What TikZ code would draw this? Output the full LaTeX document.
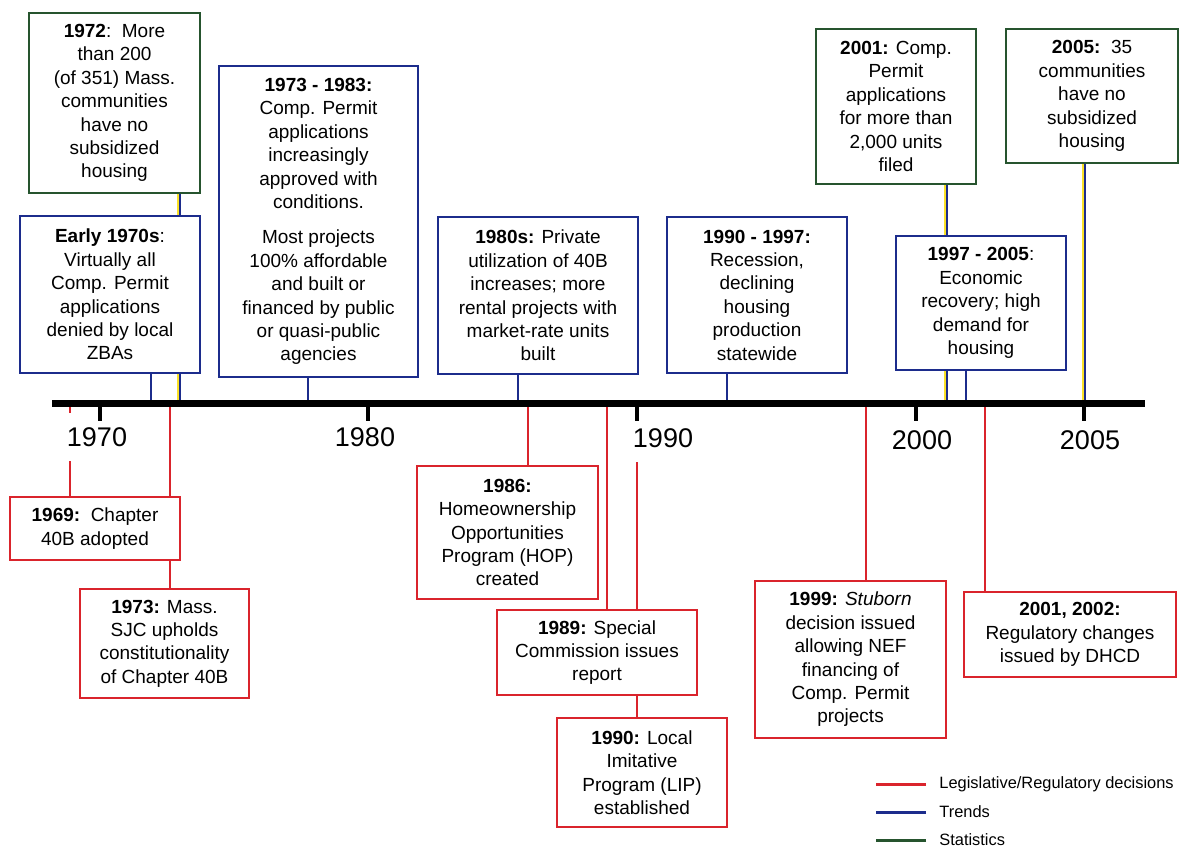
\documentclass[tikz,border=0pt]{standalone}
\usepackage{fontspec}
\setmainfont{Liberation Sans}
\usetikzlibrary{backgrounds}

\definecolor{legred}{RGB}{218,36,44}
\definecolor{trendblue}{RGB}{28,44,140}
\definecolor{statgreen}{RGB}{38,84,46}
\definecolor{fringe}{RGB}{250,225,40}

\tikzset{
  box/.style={rectangle, draw, fill=white, line width=1.2pt, align=center,
    inner sep=0pt, font=\fontsize{9.5}{11.7}\selectfont},
  legbox/.style={box, draw=legred},
  trendbox/.style={box, draw=trendblue},
  statbox/.style={box, draw=statgreen},
  legline/.style={legred, line width=1.3pt},
  trendline/.style={trendblue, line width=1.3pt},
  statline/.style={fringe, line width=2.4pt,
    postaction={draw=trendblue, line width=1.2pt, transform canvas={xshift=0.6pt}}},
  yearlabel/.style={fill=white, inner xsep=1pt, inner ysep=7pt,
    font=\fontsize{13.5}{14}\selectfont},
  keytext/.style={anchor=west, inner sep=0pt, font=\fontsize{8.2}{9}\selectfont}
}

\begin{document}
\begin{tikzpicture}[x=0.5pt, y=-0.5pt]
  \useasboundingbox (0,0) rectangle (1182,852);

  % points on the time axis
  \coordinate (axL)   at (52,403);
  \coordinate (axR)   at (1145,403);
  \coordinate (a1969) at (70,403);
  \coordinate (a1970s) at (151,403);
  \coordinate (a1973) at (170,403);
  \coordinate (a1972) at (179,403);
  \coordinate (a7383) at (308,403);
  \coordinate (a1980s) at (518,403);
  \coordinate (a1986) at (528,403);
  \coordinate (a1989) at (607,403);
  \coordinate (a1990) at (637,403);
  \coordinate (a9097) at (727,403);
  \coordinate (a1999) at (866,403);
  \coordinate (a2001) at (946,403);
  \coordinate (a9705) at (966,403);
  \coordinate (a0102) at (985,403);
  \coordinate (a2005) at (1084,403);

  % statistics and trends, above the axis
  \node[statbox, minimum width=85.5pt, minimum height=90pt] (s1972) at (114.5,103)
    {\textbf{1972}:\ \ More\\ than 200\\ (of 351) Mass.\\ communities\\ have no\\ subsidized\\ housing};
  \node[trendbox, minimum width=90pt, minimum height=78.5pt] (t1970s) at (110,294.5)
    {\textbf{Early 1970s}:\\ Virtually all\\ Comp. Permit\\ applications\\ denied by local\\ ZBAs};
  \node[trendbox, minimum width=99.5pt, minimum height=155.5pt] (t7383) at (318.5,221.5)
    {\textbf{1973 - 1983:}\\ Comp. Permit\\ applications\\ increasingly\\ approved with\\ conditions.\\[6pt]
     Most projects\\ 100\% affordable\\ and built or\\ financed by public\\ or quasi-public\\ agencies};
  \node[trendbox, minimum width=100pt, minimum height=78.5pt] (t1980s) at (538,295.5)
    {\textbf{1980s:} Private\\ utilization of 40B\\ increases; more\\ rental projects with\\ market-rate units\\ built};
  \node[trendbox, minimum width=90pt, minimum height=78pt] (t9097) at (757,295)
    {\textbf{1990 - 1997:}\\ Recession,\\ declining\\ housing\\ production\\ statewide};
  \node[statbox, minimum width=80pt, minimum height=77.5pt] (s2001) at (896,106.5)
    {\textbf{2001:} Comp.\\ Permit\\ applications\\ for more than\\ 2,000 units\\ filed};
  \node[trendbox, minimum width=85pt, minimum height=67pt] (t9705) at (981,303)
    {\textbf{1997 - 2005}:\\ Economic\\ recovery; high\\ demand for\\ housing};
  \node[statbox, minimum width=86pt, minimum height=67pt] (s2005) at (1092,96)
    {\textbf{2005:}\ \ 35\\ communities\\ have no\\ subsidized\\ housing};

  % legislative and regulatory decisions, below the axis
  \node[legbox, minimum width=85pt, minimum height=31.5pt] (l1969) at (95,528.5)
    {\textbf{1969:}\ \ Chapter\\ 40B adopted};
  \node[legbox, minimum width=84.5pt, minimum height=54.5pt] (l1973) at (164.5,643.5)
    {\textbf{1973:} Mass.\\ SJC upholds\\ constitutionality\\ of Chapter 40B};
  \node[legbox, minimum width=90.5pt, minimum height=66.5pt] (l1986) at (507.5,532.5)
    {\textbf{1986:}\\ Homeownership\\ Opportunities\\ Program (HOP)\\ created};
  \node[legbox, minimum width=100pt, minimum height=42.5pt] (l1989) at (597,652.5)
    {\textbf{1989:} Special\\ Commission issues\\ report};
  \node[legbox, minimum width=85pt, minimum height=54.5pt] (l1990) at (642,772.5)
    {\textbf{1990:} Local\\ Imitative\\ Program (LIP)\\ established};
  \node[legbox, minimum width=95.5pt, minimum height=78.5pt] (l1999) at (850.5,659.5)
    {\textbf{1999:} \textit{Stuborn}\\ decision issued\\ allowing NEF\\ financing of\\ Comp. Permit\\ projects};
  \node[legbox, minimum width=106pt, minimum height=42.5pt] (l0102) at (1070,634.5)
    {\textbf{2001, 2002:}\\ Regulatory changes\\ issued by DHCD};

  % connectors run behind the boxes
  \begin{pgfonlayer}{background}
    \draw[legline] (a1969) -- (a1969 |- l1969.north);
    \draw[legline] (a1973) -- (a1973 |- l1973.north);
    \draw[legline] (a1986) -- (a1986 |- l1986.north);
    \draw[legline] (a1989) -- (a1989 |- l1989.north);
    \draw[legline] (a1990) -- (a1990 |- l1990.north);
    \draw[legline] (a1999) -- (a1999 |- l1999.north);
    \draw[legline] (a0102) -- (a0102 |- l0102.north);
    \draw[trendline] (a1970s) -- (a1970s |- t1970s.south);
    \draw[trendline] (a7383) -- (a7383 |- t7383.south);
    \draw[trendline] (a1980s) -- (a1980s |- t1980s.south);
    \draw[trendline] (a9097) -- (a9097 |- t9097.south);
    \draw[trendline] (a9705) -- (a9705 |- t9705.south);
    \draw[statline] (a1972) -- (a1972 |- s1972.south);
    \draw[statline] (a2001) -- (a2001 |- s2001.south);
    \draw[statline] (a2005) -- (a2005 |- s2005.south);
  \end{pgfonlayer}

  % years
  \foreach \yr/\lx/\ly in {1970/97/437, 1980/365/437, 1990/663/438, 2000/922/440, 2005/1090/440}
    \node[yearlabel] (y\yr) at (\lx,\ly) {\yr};

  \draw[line width=3.5pt] (axL) -- (axR);
  \foreach \tx in {100,368,637,916,1084}
    \draw[line width=2pt] (\tx,403) -- (\tx,421);

  % key
  \node[keytext] (keyleg) at (939,784) {Legislative/Regulatory decisions};
  \node[keytext] (keytrend) at (939,812) {Trends};
  \node[keytext] (keystat) at (939,840) {Statistics};
  \draw[legred, line width=1.5pt] ([xshift=-6.5pt]keyleg.west) -- ++(-50,0);
  \draw[trendblue, line width=1.5pt] ([xshift=-6.5pt]keytrend.west) -- ++(-50,0);
  \draw[statgreen, line width=1.5pt] ([xshift=-6.5pt]keystat.west) -- ++(-50,0);

\end{tikzpicture}
\end{document}
